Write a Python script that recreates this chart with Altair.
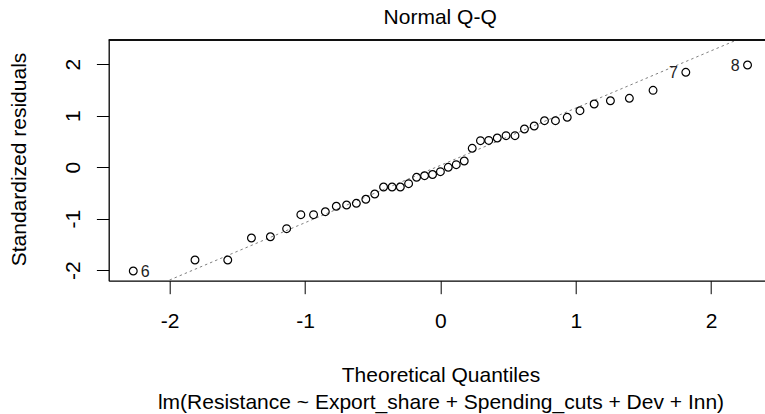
import altair as alt
import pandas as pd

FONT = "Liberation Sans"

# Theoretical quantiles (x) and standardized residuals (y)
theoretical = [-2.269, -1.813, -1.571, -1.396, -1.256, -1.136, -1.031, -0.937, -0.850, -0.769,
               -0.693, -0.621, -0.551, -0.485, -0.420, -0.357, -0.296, -0.235, -0.176, -0.117,
               -0.058, 0.0, 0.058, 0.117, 0.176, 0.235, 0.296, 0.357, 0.420, 0.485,
               0.551, 0.621, 0.693, 0.769, 0.850, 0.937, 1.031, 1.136, 1.256, 1.396,
               1.571, 1.813, 2.269]
residuals = [-2.016, -1.802, -1.802, -1.375, -1.350, -1.194, -0.922, -0.922, -0.864, -0.759,
             -0.734, -0.701, -0.623, -0.520, -0.384, -0.384, -0.384, -0.320, -0.196, -0.165,
             -0.142, -0.087, -0.002, 0.049, 0.120, 0.367, 0.515, 0.520, 0.567, 0.612,
             0.612, 0.742, 0.800, 0.903, 0.903, 0.969, 1.097, 1.227, 1.291, 1.338,
             1.493, 1.843, 1.984]
# point ids shown next to the most extreme residuals
id_labels = ["6"] + [""] * 40 + ["7", "8"]

# reference line (qqline) parameters
qq_intercept = 0.035
qq_slope = 1.1126
qq_x = [-2.6, 2.6]

tick_values = [-2, -1, 0, 1, 2]

df = pd.DataFrame({"x": theoretical, "y": residuals, "id": id_labels})
line_df = pd.DataFrame({"x": qq_x})

W = 656.3
H = 240.7

x_scale = alt.Scale(domain=[-2.4505, 2.398], nice=False, zero=False)
y_scale = alt.Scale(domain=[-2.204, 2.470], nice=False, zero=False)

x_axis = alt.Axis(
    values=tick_values, labelExpr="'' + datum.value", grid=False,
    title=["Theoretical Quantiles", "lm(Resistance ~ Export_share + Spending_cuts + Dev + Inn)"],
    tickSize=13, tickColor="black", tickWidth=1, domainColor="black", domainWidth=1.3,
    labelFontSize=21, labelColor="black", labelPadding=17, labelBaseline="top", labelFlush=False,
    titleFontSize=21, titleFontWeight="normal", titleColor="black",
    titleBaseline="alphabetic", titleY=101, titleX=331.8, titleAlign="center",
    titleLineHeight=26.6,
)
y_axis = alt.Axis(
    values=tick_values, labelExpr="'' + datum.value", grid=False,
    title="Standardized residuals",
    tickSize=12.3, tickColor="black", tickWidth=1, domainColor="black", domainWidth=1.3,
    labelFontSize=21, labelColor="black", labelPadding=17, labelAngle=270,
    labelAlign="center", labelBaseline="alphabetic", labelFlush=False,
    titleFontSize=21, titleFontWeight="normal", titleColor="black",
    titleBaseline="alphabetic", titleAngle=270, titleAlign="center",
    titleX=-83.7, titleY=119,
)

points = alt.Chart(df).mark_point(
    shape="circle", filled=False, color="black", strokeWidth=1.2, size=60, opacity=1
).encode(
    x=alt.X("x:Q", scale=x_scale, axis=x_axis),
    y=alt.Y("y:Q", scale=y_scale, axis=y_axis),
)

qqline = alt.Chart(line_df).transform_calculate(
    y=f"{qq_intercept} + {qq_slope} * datum.x"
).mark_line(color="#7f7f7f", strokeWidth=1, strokeDash=[2.5, 3], clip=True).encode(
    x=alt.X("x:Q", scale=x_scale),
    y=alt.Y("y:Q", scale=y_scale),
)

lab_left = alt.Chart(df).transform_filter("datum.id == '6'").mark_text(
    align="left", baseline="middle", dx=7.5, dy=0.5, fontSize=16, color="#222222"
).encode(x=alt.X("x:Q", scale=x_scale), y=alt.Y("y:Q", scale=y_scale), text="id:N")

lab_right = alt.Chart(df).transform_filter("datum.id == '7' || datum.id == '8'").mark_text(
    align="right", baseline="middle", dx=-8, dy=0.5, fontSize=16, color="#222222"
).encode(x=alt.X("x:Q", scale=x_scale), y=alt.Y("y:Q", scale=y_scale), text="id:N")

top_border = alt.Chart(line_df).mark_rule(color="black", strokeWidth=1.3).encode(
    x=alt.value(0), x2=alt.value(W), y=alt.value(0)
)

chart = alt.layer(qqline, points, lab_left, lab_right, top_border).properties(
    width=W, height=H,
    title=alt.TitleParams(
        text="Normal Q-Q", fontSize=21, fontWeight="normal", font=FONT, color="black",
        anchor="middle", frame="group", dx=3.3, dy=16, offset=10, baseline="alphabetic",
    ),
    autosize=alt.AutoSizeParams(type="none"),
    padding={"left": 108.7, "top": 40, "right": 0, "bottom": 133.3},
).configure(font=FONT, background="white").configure_view(stroke=None)

chart.save("out.html", embed_options={"renderer": "svg", "actions": False})
